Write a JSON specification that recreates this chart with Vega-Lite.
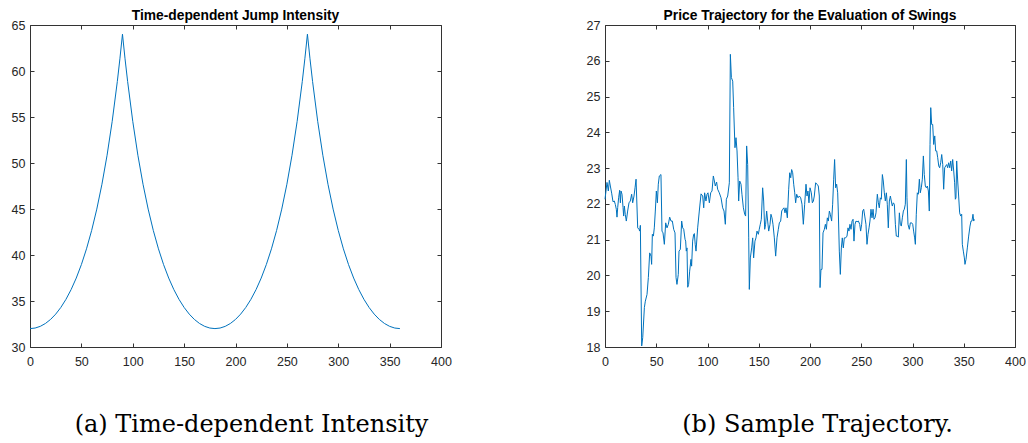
{
  "$schema": "https://vega.github.io/schema/vega-lite/v6.json",
  "padding": {"left": 10, "top": 8, "right": 0, "bottom": 0},
  "background": "white",
  "spacing": 133,
  "config": {
    "view": {"stroke": "#333333", "strokeWidth": 1},
    "font": "Liberation Sans",
    "axis": {
      "domain": false,
      "grid": false,
      "tickColor": "#333333",
      "tickWidth": 1,
      "tickSize": -4,
      "labelColor": "#262626",
      "labelFont": "Liberation Sans",
      "labelFontSize": 12.5,
      "labelFlush": false,
      "labelOverlap": false
    },
    "axisX": {"labelPadding": 12.5},
    "axisY": {"labelPadding": 9},
    "title": {"font": "Liberation Sans", "fontSize": 13.8, "fontWeight": "bold", "color": "#000000", "baseline": "alphabetic", "offset": -4}
  },
  "datasets": {
    "intensity": [
      {"t": 0, "v": 32}, {"t": 5, "v": 32.061}, {"t": 10, "v": 32.245}, {"t": 15, "v": 32.555}, {"t": 20, "v": 32.995},
      {"t": 25, "v": 33.573}, {"t": 30, "v": 34.297}, {"t": 35, "v": 35.181}, {"t": 40, "v": 36.239}, {"t": 45, "v": 37.49},
      {"t": 50, "v": 38.958}, {"t": 55, "v": 40.672}, {"t": 60, "v": 42.667}, {"t": 65, "v": 44.988}, {"t": 70, "v": 47.689},
      {"t": 75, "v": 50.842}, {"t": 80, "v": 54.531}, {"t": 85, "v": 58.869}, {"t": 87.5, "v": 61.325}, {"t": 90, "v": 64},
      {"t": 92.5, "v": 61.325}, {"t": 95, "v": 58.869}, {"t": 100, "v": 54.531}, {"t": 105, "v": 50.842}, {"t": 110, "v": 47.689},
      {"t": 115, "v": 44.988}, {"t": 120, "v": 42.667}, {"t": 125, "v": 40.672}, {"t": 130, "v": 38.958}, {"t": 135, "v": 37.49},
      {"t": 140, "v": 36.239}, {"t": 145, "v": 35.181}, {"t": 150, "v": 34.297}, {"t": 155, "v": 33.573}, {"t": 160, "v": 32.995},
      {"t": 165, "v": 32.555}, {"t": 170, "v": 32.245}, {"t": 175, "v": 32.061}, {"t": 180, "v": 32},
      {"t": 185, "v": 32.061}, {"t": 190, "v": 32.245}, {"t": 195, "v": 32.555}, {"t": 200, "v": 32.995},
      {"t": 205, "v": 33.573}, {"t": 210, "v": 34.297}, {"t": 215, "v": 35.181}, {"t": 220, "v": 36.239}, {"t": 225, "v": 37.49},
      {"t": 230, "v": 38.958}, {"t": 235, "v": 40.672}, {"t": 240, "v": 42.667}, {"t": 245, "v": 44.988}, {"t": 250, "v": 47.689},
      {"t": 255, "v": 50.842}, {"t": 260, "v": 54.531}, {"t": 265, "v": 58.869}, {"t": 267.5, "v": 61.325}, {"t": 270, "v": 64},
      {"t": 272.5, "v": 61.325}, {"t": 275, "v": 58.869}, {"t": 280, "v": 54.531}, {"t": 285, "v": 50.842}, {"t": 290, "v": 47.689},
      {"t": 295, "v": 44.988}, {"t": 300, "v": 42.667}, {"t": 305, "v": 40.672}, {"t": 310, "v": 38.958}, {"t": 315, "v": 37.49},
      {"t": 320, "v": 36.239}, {"t": 325, "v": 35.181}, {"t": 330, "v": 34.297}, {"t": 335, "v": 33.573}, {"t": 340, "v": 32.995},
      {"t": 345, "v": 32.555}, {"t": 350, "v": 32.245}, {"t": 355, "v": 32.061}, {"t": 360, "v": 32}
    ],
    "price": [
      {"t": 0, "v": 22.13}, {"t": 1.95, "v": 22.6}, {"t": 3.25, "v": 22.36}, {"t": 4.23, "v": 22.66}, {"t": 5.2, "v": 22.5},
      {"t": 6.5, "v": 22.3}, {"t": 7.8, "v": 22.06}, {"t": 9.1, "v": 22.08}, {"t": 10.1, "v": 21.98}, {"t": 11.05, "v": 21.85},
      {"t": 11.7, "v": 21.63}, {"t": 12.4, "v": 21.9}, {"t": 13.3, "v": 22.17}, {"t": 14.3, "v": 22.38}, {"t": 15.0, "v": 22.03},
      {"t": 15.6, "v": 22.36}, {"t": 16.6, "v": 22.27}, {"t": 17.6, "v": 21.9}, {"t": 18.2, "v": 21.66}, {"t": 18.9, "v": 21.94},
      {"t": 19.8, "v": 21.7}, {"t": 20.8, "v": 21.52}, {"t": 22.1, "v": 21.8}, {"t": 23.4, "v": 22.03}, {"t": 24.7, "v": 22.08},
      {"t": 26.0, "v": 22.27}, {"t": 27.0, "v": 22.03}, {"t": 28.3, "v": 22.22}, {"t": 29.3, "v": 22.45}, {"t": 30.3, "v": 22.69},
      {"t": 31.9, "v": 21.33}, {"t": 33.2, "v": 21.29}, {"t": 33.8, "v": 21.24}, {"t": 34.5, "v": 21.4}, {"t": 35.8, "v": 18.03},
      {"t": 36.8, "v": 18.26}, {"t": 38.4, "v": 19.1}, {"t": 39.35, "v": 19.28}, {"t": 41.0, "v": 19.47}, {"t": 42.3, "v": 19.94},
      {"t": 43.6, "v": 20.63}, {"t": 44.9, "v": 20.54}, {"t": 45.5, "v": 20.31}, {"t": 46.2, "v": 21.15}, {"t": 47.2, "v": 21.1},
      {"t": 48.1, "v": 21.33}, {"t": 49.1, "v": 21.8}, {"t": 50.1, "v": 22.36}, {"t": 51.1, "v": 22.03}, {"t": 52.0, "v": 22.55},
      {"t": 53.0, "v": 22.78}, {"t": 54.6, "v": 22.82}, {"t": 55.6, "v": 21.24}, {"t": 56.6, "v": 21.19}, {"t": 57.9, "v": 20.87},
      {"t": 59.2, "v": 21.47}, {"t": 60.5, "v": 21.33}, {"t": 61.8, "v": 21.43}, {"t": 63.1, "v": 21.63}, {"t": 64.4, "v": 21.52},
      {"t": 65.7, "v": 21.52}, {"t": 67.0, "v": 21.29}, {"t": 68.3, "v": 21.19}, {"t": 69.3, "v": 19.94}, {"t": 70.2, "v": 19.75},
      {"t": 71.5, "v": 20.03}, {"t": 72.2, "v": 20.68}, {"t": 73.5, "v": 20.73}, {"t": 74.8, "v": 21.52}, {"t": 75.8, "v": 21.33},
      {"t": 76.8, "v": 21.29}, {"t": 78.1, "v": 21.01}, {"t": 78.7, "v": 20.96}, {"t": 79.3, "v": 20.68}, {"t": 80.0, "v": 20.77},
      {"t": 80.7, "v": 19.67}, {"t": 81.6, "v": 19.75}, {"t": 82.6, "v": 20.12}, {"t": 83.9, "v": 20.45}, {"t": 84.5, "v": 20.26},
      {"t": 85.5, "v": 20.96}, {"t": 86.5, "v": 21.15}, {"t": 87.2, "v": 21.17}, {"t": 88.0, "v": 20.87}, {"t": 88.8, "v": 20.68},
      {"t": 90.4, "v": 21.33}, {"t": 92.0, "v": 21.8}, {"t": 93.7, "v": 22.28}, {"t": 95.3, "v": 22.22}, {"t": 96.3, "v": 21.89},
      {"t": 97.2, "v": 22.31}, {"t": 98.5, "v": 22.08}, {"t": 99.5, "v": 22.27}, {"t": 100.5, "v": 22.31}, {"t": 101.8, "v": 22.03},
      {"t": 103.1, "v": 22.31}, {"t": 104.4, "v": 22.36}, {"t": 105.7, "v": 22.78}, {"t": 106.7, "v": 22.64}, {"t": 107.6, "v": 22.5},
      {"t": 108.9, "v": 22.61}, {"t": 109.9, "v": 22.41}, {"t": 111.5, "v": 22.31}, {"t": 113.2, "v": 22.17}, {"t": 114.8, "v": 21.89},
      {"t": 116.1, "v": 21.8}, {"t": 117.4, "v": 21.43}, {"t": 118.4, "v": 22.13}, {"t": 119.7, "v": 22.22}, {"t": 121.3, "v": 22.59},
      {"t": 122.3, "v": 26.18}, {"t": 123.3, "v": 25.53}, {"t": 124.6, "v": 25.43}, {"t": 125.5, "v": 24.69}, {"t": 126.8, "v": 23.57},
      {"t": 127.8, "v": 23.85}, {"t": 128.8, "v": 23.48}, {"t": 129.8, "v": 22.73}, {"t": 130.4, "v": 22.08}, {"t": 131.4, "v": 22.64},
      {"t": 132.7, "v": 22.55}, {"t": 133.6, "v": 22.27}, {"t": 135.0, "v": 21.89}, {"t": 136.3, "v": 21.71}, {"t": 137.2, "v": 21.66},
      {"t": 138.2, "v": 23.62}, {"t": 139.2, "v": 23.1}, {"t": 140.2, "v": 21.05}, {"t": 140.8, "v": 19.61}, {"t": 141.8, "v": 20.49},
      {"t": 143.1, "v": 20.77}, {"t": 144.1, "v": 21.05}, {"t": 145.0, "v": 20.49}, {"t": 146.3, "v": 20.96}, {"t": 147.3, "v": 21.05},
      {"t": 148.3, "v": 21.24}, {"t": 149.6, "v": 21.15}, {"t": 150.5, "v": 21.29}, {"t": 151.5, "v": 21.43}, {"t": 152.5, "v": 21.57},
      {"t": 153.8, "v": 22.45}, {"t": 154.8, "v": 22.08}, {"t": 155.8, "v": 21.29}, {"t": 156.7, "v": 21.43}, {"t": 157.7, "v": 21.8},
      {"t": 158.7, "v": 21.52}, {"t": 159.7, "v": 21.24}, {"t": 161.0, "v": 21.43}, {"t": 161.9, "v": 21.71}, {"t": 162.9, "v": 21.61},
      {"t": 163.9, "v": 21.43}, {"t": 165.2, "v": 21.05}, {"t": 166.5, "v": 20.54}, {"t": 167.8, "v": 21.05}, {"t": 169.1, "v": 21.29},
      {"t": 170.1, "v": 21.47}, {"t": 171.4, "v": 21.52}, {"t": 172.4, "v": 21.8}, {"t": 173.4, "v": 21.85}, {"t": 174.6, "v": 21.89},
      {"t": 175.6, "v": 21.75}, {"t": 176.6, "v": 21.89}, {"t": 177.9, "v": 21.61}, {"t": 179.2, "v": 22.41}, {"t": 180.2, "v": 22.87},
      {"t": 181.2, "v": 22.73}, {"t": 182.1, "v": 22.96}, {"t": 183.1, "v": 22.87}, {"t": 184.1, "v": 22.55}, {"t": 185.1, "v": 22.31},
      {"t": 186.0, "v": 22.03}, {"t": 187.0, "v": 22.27}, {"t": 188.3, "v": 22.17}, {"t": 189.6, "v": 22.22}, {"t": 190.9, "v": 22.17},
      {"t": 192.2, "v": 21.99}, {"t": 193.5, "v": 21.43}, {"t": 194.8, "v": 21.99}, {"t": 196.1, "v": 22.55}, {"t": 197.1, "v": 22.22},
      {"t": 198.0, "v": 22.36}, {"t": 199.0, "v": 22.03}, {"t": 200.0, "v": 22.45}, {"t": 201.3, "v": 22.31}, {"t": 202.3, "v": 22.03},
      {"t": 203.3, "v": 22.08}, {"t": 204.2, "v": 22.22}, {"t": 205.5, "v": 22.59}, {"t": 206.8, "v": 22.55}, {"t": 208.1, "v": 22.5},
      {"t": 209.1, "v": 22.22}, {"t": 209.8, "v": 19.66}, {"t": 210.7, "v": 20.17}, {"t": 211.7, "v": 20.17}, {"t": 212.7, "v": 21.19},
      {"t": 214.0, "v": 21.29}, {"t": 215.0, "v": 21.43}, {"t": 216.0, "v": 21.29}, {"t": 216.9, "v": 21.61}, {"t": 217.9, "v": 21.52},
      {"t": 218.9, "v": 21.8}, {"t": 219.8, "v": 21.71}, {"t": 221.1, "v": 21.52}, {"t": 222.1, "v": 21.99}, {"t": 223.1, "v": 22.69},
      {"t": 224.0, "v": 23.24}, {"t": 225.0, "v": 22.45}, {"t": 226.0, "v": 22.55}, {"t": 227.0, "v": 22.31}, {"t": 227.6, "v": 21.8},
      {"t": 228.6, "v": 20.68}, {"t": 229.6, "v": 20.03}, {"t": 230.6, "v": 20.77}, {"t": 231.5, "v": 21.05}, {"t": 232.5, "v": 20.77},
      {"t": 233.5, "v": 21.05}, {"t": 234.8, "v": 21.05}, {"t": 236.1, "v": 21.1}, {"t": 237.1, "v": 21.33}, {"t": 238.0, "v": 21.24},
      {"t": 239.0, "v": 21.43}, {"t": 240.0, "v": 21.29}, {"t": 241.0, "v": 21.52}, {"t": 242.0, "v": 21.57}, {"t": 242.9, "v": 20.96},
      {"t": 243.9, "v": 21.43}, {"t": 244.9, "v": 21.52}, {"t": 245.9, "v": 21.5}, {"t": 247.2, "v": 21.52}, {"t": 248.5, "v": 21.43},
      {"t": 249.4, "v": 21.24}, {"t": 250.4, "v": 21.43}, {"t": 251.4, "v": 21.8}, {"t": 252.4, "v": 21.85}, {"t": 253.4, "v": 21.66},
      {"t": 254.6, "v": 21.43}, {"t": 255.6, "v": 20.87}, {"t": 256.6, "v": 21.15}, {"t": 257.6, "v": 21.33}, {"t": 258.5, "v": 21.52},
      {"t": 259.5, "v": 21.85}, {"t": 260.5, "v": 21.61}, {"t": 261.5, "v": 21.85}, {"t": 262.4, "v": 21.57}, {"t": 263.4, "v": 21.61},
      {"t": 264.4, "v": 21.75}, {"t": 265.7, "v": 22.27}, {"t": 266.7, "v": 22.03}, {"t": 267.6, "v": 21.89}, {"t": 268.6, "v": 22.17},
      {"t": 269.6, "v": 22.13}, {"t": 270.6, "v": 22.82}, {"t": 271.5, "v": 22.64}, {"t": 272.5, "v": 22.31}, {"t": 273.5, "v": 22.08},
      {"t": 274.5, "v": 22.31}, {"t": 275.4, "v": 21.99}, {"t": 276.4, "v": 21.33}, {"t": 277.4, "v": 22.08}, {"t": 278.4, "v": 22.22},
      {"t": 279.3, "v": 22.08}, {"t": 280.3, "v": 21.94}, {"t": 281.3, "v": 22.03}, {"t": 282.3, "v": 21.99}, {"t": 283.3, "v": 21.43},
      {"t": 284.2, "v": 21.1}, {"t": 285.2, "v": 21.1}, {"t": 286.2, "v": 21.07}, {"t": 287.2, "v": 21.75}, {"t": 288.1, "v": 21.43},
      {"t": 289.1, "v": 21.38}, {"t": 290.1, "v": 21.61}, {"t": 291.1, "v": 21.8}, {"t": 292.0, "v": 21.85}, {"t": 293.0, "v": 21.99},
      {"t": 294.0, "v": 23.24}, {"t": 294.6, "v": 22.17}, {"t": 295.6, "v": 21.43}, {"t": 296.9, "v": 21.29}, {"t": 297.9, "v": 21.47},
      {"t": 299.2, "v": 21.47}, {"t": 300.2, "v": 21.43}, {"t": 301.1, "v": 21.24}, {"t": 302.1, "v": 21.05}, {"t": 302.8, "v": 20.87},
      {"t": 303.7, "v": 21.71}, {"t": 304.7, "v": 22.31}, {"t": 305.7, "v": 22.27}, {"t": 306.7, "v": 22.69}, {"t": 307.6, "v": 22.31},
      {"t": 308.6, "v": 22.45}, {"t": 309.6, "v": 22.69}, {"t": 310.6, "v": 23.34}, {"t": 311.5, "v": 22.82}, {"t": 312.5, "v": 22.5},
      {"t": 313.5, "v": 22.45}, {"t": 314.5, "v": 22.5}, {"t": 315.5, "v": 22.36}, {"t": 316.4, "v": 21.8}, {"t": 317.1, "v": 23.66},
      {"t": 317.8, "v": 24.69}, {"t": 318.7, "v": 24.22}, {"t": 319.7, "v": 24.22}, {"t": 320.7, "v": 23.66}, {"t": 321.7, "v": 23.9},
      {"t": 322.6, "v": 23.48}, {"t": 323.6, "v": 23.48}, {"t": 324.6, "v": 23.29}, {"t": 325.6, "v": 23.06}, {"t": 326.5, "v": 23.01},
      {"t": 327.5, "v": 23.15}, {"t": 328.5, "v": 23.38}, {"t": 329.5, "v": 23.1}, {"t": 330.4, "v": 22.41}, {"t": 331.4, "v": 23.01},
      {"t": 332.4, "v": 23.06}, {"t": 333.4, "v": 23.1}, {"t": 334.3, "v": 23.01}, {"t": 335.3, "v": 23.15}, {"t": 336.3, "v": 23.01},
      {"t": 337.3, "v": 23.2}, {"t": 338.2, "v": 22.92}, {"t": 339.2, "v": 23.24}, {"t": 340.2, "v": 22.92}, {"t": 341.1, "v": 22.59},
      {"t": 341.8, "v": 22.13}, {"t": 342.4, "v": 22.17}, {"t": 343.1, "v": 23.2}, {"t": 344.1, "v": 22.64}, {"t": 345.0, "v": 22.22},
      {"t": 346.0, "v": 21.75}, {"t": 347.0, "v": 21.66}, {"t": 348.0, "v": 21.71}, {"t": 348.6, "v": 20.87}, {"t": 349.6, "v": 20.68},
      {"t": 350.6, "v": 20.49}, {"t": 351.2, "v": 20.31}, {"t": 352.2, "v": 20.45}, {"t": 353.5, "v": 20.77}, {"t": 354.8, "v": 21.1},
      {"t": 356.1, "v": 21.38}, {"t": 357.1, "v": 21.52}, {"t": 358.0, "v": 21.52}, {"t": 359.0, "v": 21.71}, {"t": 359.7, "v": 21.52},
      {"t": 360.3, "v": 21.57}
    ]
  },
  "hconcat": [
    {
      "width": 411,
      "height": 322,
      "title": {"text": "Time-dependent Jump Intensity"},
      "data": {"name": "intensity"},
      "layer": [
        {
          "mark": {"type": "line", "color": "#0072BD", "strokeWidth": 1},
          "encoding": {
            "x": {"field": "t", "type": "quantitative", "scale": {"domain": [0, 400], "nice": false},
                  "axis": {"values": [0, 50, 100, 150, 200, 250, 300, 350, 400], "title": "(a) Time-dependent Intensity",
                           "titleFont": "DejaVu Serif", "titleFontSize": 24, "titleFontWeight": "normal", "titleColor": "#000000",
                           "titleBaseline": "alphabetic", "titleX": 221, "titleY": 84}},
            "y": {"field": "v", "type": "quantitative", "scale": {"domain": [30, 65], "nice": false},
                  "axis": {"values": [30, 35, 40, 45, 50, 55, 60, 65], "title": null}}
          }
        },
        {
          "mark": {"type": "line", "opacity": 0},
          "encoding": {
            "x": {"field": "t", "type": "quantitative", "axis": {"orient": "top", "labels": false, "title": null, "values": [0, 50, 100, 150, 200, 250, 300, 350, 400]}},
            "y": {"field": "v", "type": "quantitative", "axis": {"orient": "right", "labels": false, "title": null, "values": [30, 35, 40, 45, 50, 55, 60, 65]}}
          }
        }
      ],
      "resolve": {"axis": {"x": "independent", "y": "independent"}}
    },
    {
      "width": 410,
      "height": 322,
      "title": {"text": "Price Trajectory for the Evaluation of Swings"},
      "data": {"name": "price"},
      "layer": [
        {
          "mark": {"type": "line", "color": "#0072BD", "strokeWidth": 1},
          "encoding": {
            "x": {"field": "t", "type": "quantitative", "scale": {"domain": [0, 400], "nice": false},
                  "axis": {"values": [0, 50, 100, 150, 200, 250, 300, 350, 400], "title": "(b) Sample Trajectory.",
                           "titleFont": "DejaVu Serif", "titleFontSize": 24, "titleFontWeight": "normal", "titleColor": "#000000",
                           "titleBaseline": "alphabetic", "titleX": 212, "titleY": 84}},
            "y": {"field": "v", "type": "quantitative", "scale": {"domain": [18, 27], "nice": false},
                  "axis": {"values": [18, 19, 20, 21, 22, 23, 24, 25, 26, 27], "title": null}}
          }
        },
        {
          "mark": {"type": "line", "opacity": 0},
          "encoding": {
            "x": {"field": "t", "type": "quantitative", "axis": {"orient": "top", "labels": false, "title": null, "values": [0, 50, 100, 150, 200, 250, 300, 350, 400]}},
            "y": {"field": "v", "type": "quantitative", "axis": {"orient": "right", "labels": false, "title": null, "values": [18, 19, 20, 21, 22, 23, 24, 25, 26, 27]}}
          }
        }
      ],
      "resolve": {"axis": {"x": "independent", "y": "independent"}}
    }
  ]
}
